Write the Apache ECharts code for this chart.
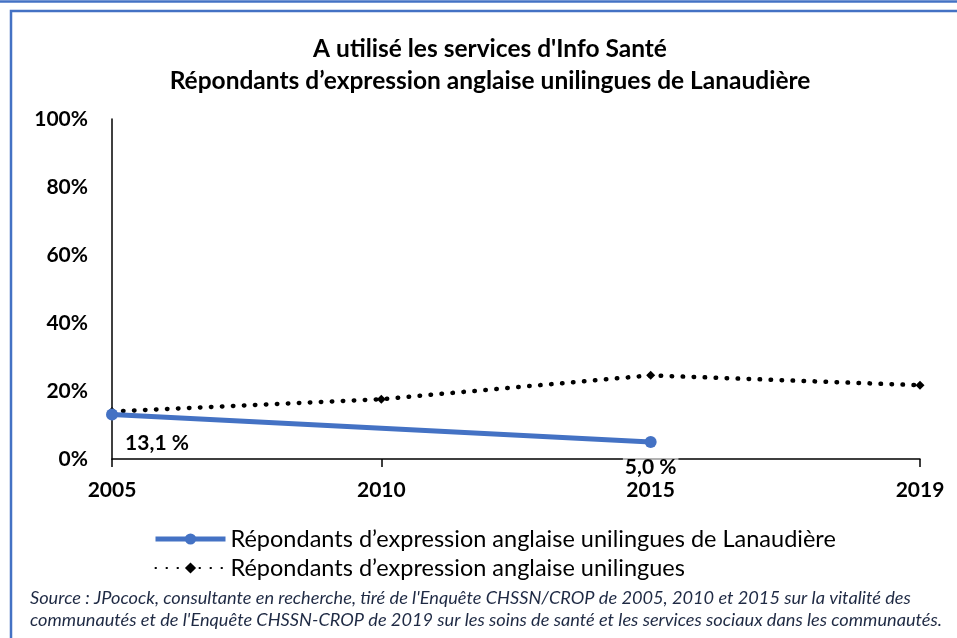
<!DOCTYPE html>
<html>
<head>
<meta charset="utf-8">
<script src="https://cdn.jsdelivr.net/npm/echarts@6/dist/echarts.min.js"></script>
<style>
  html, body { margin: 0; padding: 0; background: #fff; }
  #chart { width: 957px; height: 638px; }
</style>
</head>
<body>
<div id="chart"></div>
<script>
// données
const years = ['2005', '2010', '2015', '2019'];
const lanaudiere = [13.1, null, 5.0, null];
const unilingues = [14.0, 17.6, 24.6, 21.7];
const yTicks = [0, 20, 40, 60, 80, 100];
const titleLines = ["A utilisé les services d'Info Santé", 'Répondants d’expression anglaise unilingues de Lanaudière'];
const seriesNames = ['Répondants d’expression anglaise unilingues de Lanaudière', 'Répondants d’expression anglaise unilingues'];
const sourceLines = [
  "Source : JPocock, consultante en recherche, tiré de l'Enquête CHSSN/CROP de 2005, 2010 et 2015 sur la vitalité des",
  "communautés et de l'Enquête CHSSN-CROP de 2019 sur les soins de santé et les services sociaux dans les communautés."
];

const font = 'Lato';
const blue = '#4472c4';
// décalage des étiquettes (2005 : en bas à droite, 2015 : sous le point)
const labelShift = [[45, 29], null, [0, 25], null];

let myChart = echarts.init(document.getElementById('chart'));
myChart.setOption({
  animation: false,
  textStyle: { fontFamily: font },
  title: {
    text: titleLines.join('\n'),
    left: 485,
    textAlign: 'center',
    top: 28,
    textStyle: { fontFamily: font, fontSize: 24.5, fontWeight: 'bold', color: '#000', lineHeight: 32 }
  },
  grid: { left: 112, right: 37, top: 119, bottom: 179 },
  xAxis: {
    type: 'category',
    data: years,
    boundaryGap: false,
    axisLine: { lineStyle: { color: '#000', width: 1.5 } },
    axisTick: { show: true, length: 8, alignWithLabel: true, lineStyle: { color: '#000', width: 1.5 } },
    axisLabel: { margin: 21, fontFamily: font, fontSize: 21, fontWeight: 'bold', color: '#000' }
  },
  yAxis: {
    type: 'value',
    min: yTicks[0],
    max: yTicks[yTicks.length - 1],
    interval: 20,
    splitLine: { show: false },
    axisLine: { show: true, lineStyle: { color: '#000', width: 1.5 } },
    axisTick: { show: false },
    axisLabel: { margin: 24, fontFamily: font, fontSize: 21, fontWeight: 'bold', color: '#000', formatter: '{value}%' }
  },
  legend: {
    orient: 'vertical',
    left: 148,
    top: 522,
    itemWidth: 70,
    itemHeight: 14,
    itemGap: 5,
    textStyle: { fontFamily: font, fontSize: 23.5, color: '#000' },
    data: [
      { name: seriesNames[0], lineStyle: { width: 5 } },
      { name: seriesNames[1] }
    ]
  },
  series: [
    {
      name: seriesNames[1],
      type: 'line',
      data: unilingues,
      symbol: 'diamond',
      symbolSize: 9,
      itemStyle: { color: '#000' },
      lineStyle: { color: '#000', width: 4.5, type: [0.5, 10.5], cap: 'round' },
      z: 2
    },
    {
      name: seriesNames[0],
      type: 'line',
      data: lanaudiere,
      connectNulls: true,
      symbol: 'circle',
      symbolSize: 12,
      itemStyle: { color: blue },
      lineStyle: { color: blue, width: 5 },
      z: 3,
      label: {
        show: true,
        position: 'inside',
        fontFamily: font,
        fontSize: 21,
        fontWeight: 'bold',
        color: '#000',
        backgroundColor: 'rgba(255,255,255,0.6)',
        padding: [0, 2],
        formatter: (p) => p.value == null ? '' : p.value.toFixed(1).replace('.', ',') + ' %'
      },
      labelLayout: (params) => {
        const s = labelShift[params.dataIndex] || [0, 0];
        return { dx: s[0], dy: s[1] };
      }
    }
  ],
  graphic: [
    { type: 'line', shape: { x1: 0, y1: 1.5, x2: 957, y2: 1.5 }, style: { stroke: blue, lineWidth: 2.5 } },
    { type: 'polyline', shape: { points: [[11, 638], [11, 11], [957, 11]] }, style: { stroke: blue, lineWidth: 2.5, fill: null } },
    {
      type: 'text',
      left: 30,
      top: 587,
      style: {
        text: sourceLines.join('\n'),
        font: 'italic 18.2px Lato',
        fill: '#1f2a44',
        lineHeight: 22
      }
    }
  ]
});
</script>
</body>
</html>
